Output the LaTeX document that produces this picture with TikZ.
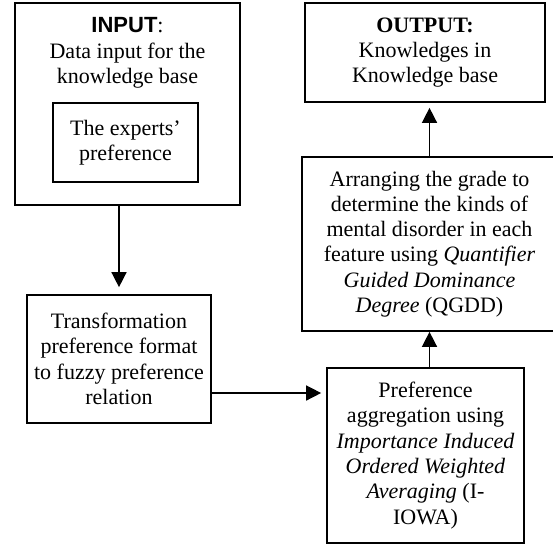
\documentclass[tikz,border=0pt]{standalone}
\usepackage{fontspec}
\setmainfont{Liberation Serif}
\newfontfamily\arialfont{Liberation Sans}
\usetikzlibrary{arrows.meta,calc}
\tikzset{
  boxnode/.style={draw, line width=1.7pt, inner sep=0pt, align=center,
    font=\fontsize{22}{25.3}\selectfont},
  txtnode/.style={inner sep=0pt, align=center, font=\fontsize{22}{25.3}\selectfont},
  flow/.style={line width=1.5pt, -{Triangle[width=15pt,length=15pt]}}
}
\begin{document}
\begin{tikzpicture}[x=1pt,y=-1pt]
\useasboundingbox (0,0) rectangle (553,544);
% INPUT box
\node[boxnode, minimum width=225pt, minimum height=202pt] (in) at (127.5,104) {};
\node[txtnode, anchor=north] (intitle) at (127.5,17.5)
  {{\arialfont\bfseries INPUT}:\\Data input for the\\knowledge base};
\node[boxnode, minimum width=145pt, minimum height=79pt] (exp) at (125.5,142.5)
  {The experts’\\preference};
% Transformation
\node[boxnode, minimum width=184pt, minimum height=128pt] (tr) at (119,359)
  {Transformation\\preference format\\to fuzzy preference\\relation};
% Preference aggregation
\node[boxnode, minimum width=197pt, minimum height=175pt] (pf) at (425.5,455.5)
  {Preference\\aggregation using\\\textit{Importance Induced}\\\textit{Ordered Weighted}\\\textit{Averaging} (I-\\IOWA)};
% Arranging
\node[boxnode, minimum width=255pt, minimum height=174pt] (ar) at (429.5,244)
  {Arranging the grade to\\determine the kinds of\\mental disorder in each\\feature using \textit{Quantifier}\\\textit{Guided Dominance}\\\textit{Degree} (QGDD)};
% Output
\node[boxnode, minimum width=240pt, minimum height=99pt] (out) at (425,52.5)
  {\textbf{OUTPUT:}\\Knowledges in\\Knowledge base};
% connectors
\draw[flow, shorten >=7pt] (in.south -| tr.north) -- (tr.north);
\coordinate (c2) at ($(tr.east)+(0,34)$);
\draw[flow, shorten >=5pt] (c2) -- (c2 -| pf.west);
\draw[flow] (pf.north -| ar.south) -- (ar.south);
\draw[flow, shorten >=5pt] (ar.north) -- (out.south -| ar.north);
\end{tikzpicture}
\end{document}
